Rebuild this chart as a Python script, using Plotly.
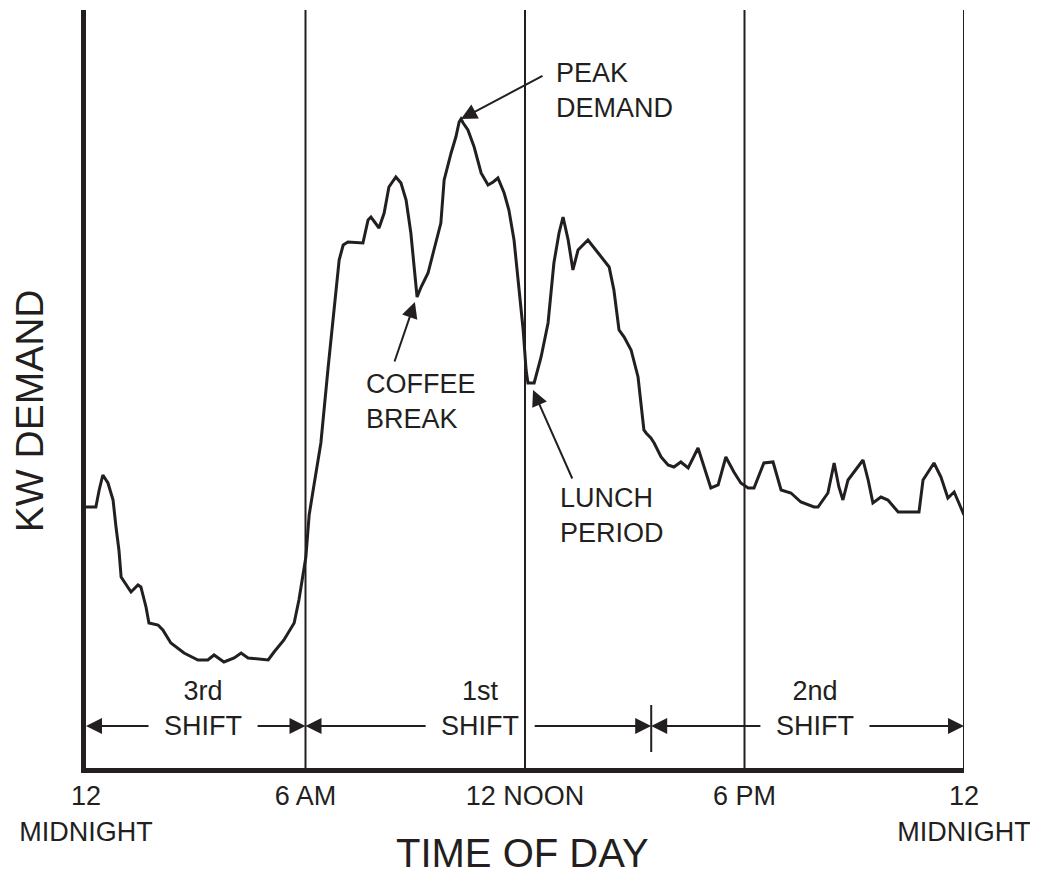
import plotly.graph_objects as go

# hourly load profile (hours after midnight, kW)
hours = [
    0.00, 0.27, 0.36, 0.46, 0.60, 0.74, 0.82, 0.90, 0.96, 1.15, 1.23, 1.42, 1.50, 1.64,
    1.72, 1.97, 2.10, 2.32, 2.68, 3.06, 3.33, 3.50, 3.77, 4.05, 4.24, 4.43, 4.98, 5.14,
    5.41, 5.69, 5.82, 6.01, 6.10, 6.21, 6.34, 6.42, 6.62, 6.78, 6.92, 7.03, 7.16, 7.57,
    7.71, 7.79, 8.01, 8.15, 8.28, 8.47, 8.61, 8.75, 8.88, 8.97, 9.05, 9.16, 9.35, 9.51,
    9.70, 9.79, 9.90, 9.98, 10.11, 10.20, 10.25, 10.31, 10.44, 10.61, 10.80, 10.99,
    11.13, 11.26, 11.43, 11.56, 11.70, 11.84, 11.95, 12.03, 12.08, 12.25, 12.44, 12.63,
    12.79, 12.93, 13.04, 13.18, 13.31, 13.45, 13.72, 14.00, 14.30, 14.43, 14.57, 14.71,
    14.90, 15.09, 15.25, 15.31, 15.44, 15.53, 15.72, 15.91, 16.07, 16.26, 16.46, 16.73,
    16.81, 17.08, 17.28, 17.49, 17.71, 17.90, 18.10, 18.26, 18.53, 18.78, 19.00, 19.27,
    19.54, 19.90, 20.01, 20.28, 20.45, 20.58, 20.69, 20.83, 21.24, 21.38, 21.51, 21.73,
    21.92, 22.20, 22.77, 22.88, 23.18, 23.37, 23.56, 23.73, 23.86, 24.00,
]
kw_demand = [
    261, 261, 278, 293, 285, 268, 241, 218, 191, 181, 176, 183, 181, 161,
    145, 143, 138, 125, 115, 108, 108, 113, 106, 110, 115, 110, 108, 116,
    128, 145, 168, 211, 253, 278, 305, 325, 401, 461, 508, 523, 526, 525,
    548, 551, 540, 555, 581, 591, 585, 568, 535, 501, 471, 481, 495, 518,
    545, 588, 605, 615, 631, 646, 649, 645, 638, 621, 595, 583,
    586, 590, 575, 558, 528, 478, 438, 398, 385, 385, 411, 445,
    505, 535, 551, 528, 498, 518, 528, 515, 501, 478, 438, 431,
    418, 391, 338, 335, 330, 325, 311, 303, 301, 306, 300, 320,
    311, 280, 283, 311, 296, 285, 280, 280, 305, 306, 278, 275,
    266, 261, 261, 275, 305, 281, 268, 288, 308, 288, 265, 271,
    268, 256, 256, 288, 305, 291, 270, 276, 265, 253,
]

tick_hours = [0, 6, 12, 18, 24]
tick_labels = ["12<br>MIDNIGHT", "6 AM", "12 NOON", "6 PM", "12<br>MIDNIGHT"]
divider_hours = [6, 12, 18, 24]

shift_names = ["3rd", "1st", "2nd"]
shift_bounds = [0, 6, 15.45, 24]

callout_text = ["PEAK<br>DEMAND", "COFFEE<br>BREAK", "LUNCH<br>PERIOD"]
callout_hour = [10.25, 8.99, 12.22]
callout_kw = [649, 466, 378]

INK = "#231f20"
FONT = "Liberation Sans, Arial, Helvetica, sans-serif"

fig = go.Figure()
fig.add_trace(
    go.Scatter(
        x=hours,
        y=kw_demand,
        mode="lines",
        line={"color": INK, "width": 3},
        hoverinfo="skip",
        showlegend=False,
    )
)

for h in divider_hours:
    fig.add_shape(
        type="line", xref="x", yref="paper", x0=h, x1=h, y0=0, y1=1,
        line={"color": INK, "width": 2},
    )

# shift spans: label in the middle, arrows out to each boundary
ARROW_Y = 42
GAP = 1.45
fig.add_shape(
    type="line", xref="x", yref="y", x0=shift_bounds[2], x1=shift_bounds[2],
    y0=16, y1=63, line={"color": INK, "width": 2},
)
for i, name in enumerate(shift_names):
    lo, hi = shift_bounds[i], shift_bounds[i + 1]
    mid = (lo + hi) / 2 + (0.2 if i != 1 else 0.05)
    fig.add_annotation(
        x=mid, y=60, xref="x", yref="y", text=f"{name}<br>SHIFT",
        showarrow=False, font={"size": 27, "color": INK, "family": FONT},
    )
    for head, tail in ((lo, mid - GAP), (hi, mid + GAP)):
        fig.add_annotation(
            x=head, y=ARROW_Y, ax=tail, ay=ARROW_Y, xref="x", yref="y",
            axref="x", ayref="y", text="", showarrow=True,
            arrowhead=2, arrowsize=1.6, arrowwidth=2, arrowcolor=INK,
        )

# callouts
text_offsets = [(2.54, 29, 2.27, 44), (-1.39, -99, -0.57, -61), (0.68, -125, 1.09, -90)]
for text, h, kw, (dx, dy, tx, ty) in zip(callout_text, callout_hour, callout_kw, text_offsets):
    fig.add_annotation(
        x=h + dx, y=kw + dy, xref="x", yref="y", text=text, showarrow=False,
        xanchor="left", align="left", font={"size": 27, "color": INK, "family": FONT},
    )
    fig.add_annotation(
        x=h, y=kw, ax=h + tx, ay=kw + ty, xref="x", yref="y", axref="x", ayref="y",
        text="", showarrow=True, arrowhead=2, arrowsize=1.6, arrowwidth=2,
        arrowcolor=INK,
    )

fig.add_annotation(
    x=-0.065, y=0.472, xref="paper", yref="paper", text="KW DEMAND", textangle=-90,
    xanchor="center", yanchor="middle",
    showarrow=False, font={"size": 39, "color": INK, "family": FONT},
)
fig.add_annotation(
    x=0.497, y=-0.112, xref="paper", yref="paper", text="TIME OF DAY",
    xanchor="center", yanchor="middle",
    showarrow=False, font={"size": 40, "color": INK, "family": FONT},
)

# the page body adds an 8px margin, so the figure is 8px smaller each way
fig.update_layout(
    width=1030,
    height=882,
    margin={"l": 78, "r": 74, "t": 2, "b": 122, "autoexpand": False},
    paper_bgcolor="white",
    plot_bgcolor="white",
    font={"family": FONT, "color": INK},
    xaxis={
        "range": [0, 24],
        "tickvals": tick_hours,
        "ticktext": tick_labels,
        "tickfont": {"size": 27, "color": INK},
        "ticks": "",
        "showgrid": False,
        "zeroline": False,
        "showline": True,
        "linewidth": 5,
        "linecolor": INK,
        "automargin": False,
    },
    yaxis={
        "range": [0, 758],
        "showticklabels": False,
        "ticks": "",
        "showgrid": False,
        "zeroline": False,
        "showline": True,
        "linewidth": 5,
        "linecolor": INK,
        "automargin": False,
    },
)

fig.write_html("out.html")
